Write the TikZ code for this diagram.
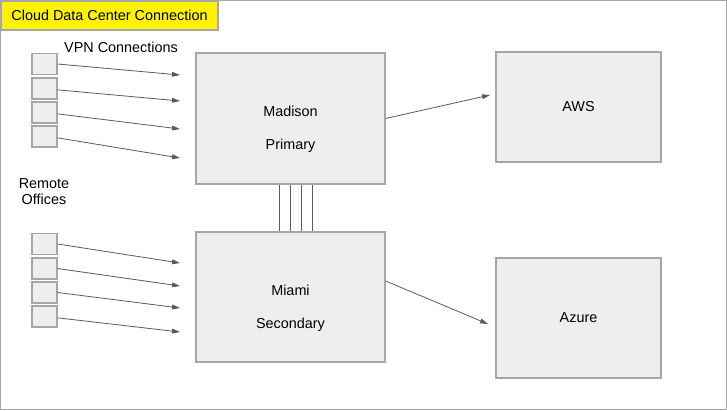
\documentclass[tikz,border=0pt]{standalone}
\usepackage{fontspec}
\setmainfont{Liberation Sans}
\usetikzlibrary{arrows.meta}
\definecolor{boxfill}{HTML}{EEEEEE}
\definecolor{boxline}{HTML}{A6A6A6}
\definecolor{arrowcol}{HTML}{5A5A5A}
\begin{document}
\begin{tikzpicture}[x=0.75pt,y=-0.75pt,
  box/.style={draw=boxline,fill=boxfill,line width=0.9pt,inner sep=0pt},
  smallbox/.style={box,minimum width=18.75pt,minimum height=15.75pt},
  conn/.style={draw=arrowcol,line width=0.6pt,-{Triangle[length=6pt,width=3.6pt]}},
  link/.style={draw=arrowcol,line width=0.75pt},
  txt/.style={font=\fontsize{10.8pt}{13pt}\selectfont,inner sep=0pt},
  twoline/.style={align=center,inner sep=0pt,font=\fontsize{10.8pt}{24.75pt}\selectfont}]
\useasboundingbox (0,0) rectangle (727,410);
\node[draw=boxline,line width=0.75pt,minimum width=544.5pt,minimum height=306.75pt,inner sep=0pt] (frame) at (363.5,205) {};
% title
\node[draw=boxline,fill=yellow,line width=0.9pt,minimum width=162.75pt,minimum height=21.75pt,inner sep=0pt,font=\fontsize{10.8pt}{13pt}\selectfont] (title) at (109.5,15.5) {Cloud Data Center Connection};
\node[txt] (vpn) at (121,47) {VPN Connections};
\node[txt,align=center,font=\fontsize{10.8pt}{12pt}\selectfont] (remote) at (44,192) {Remote\\Offices};
% small boxes
\node[smallbox] (a1) at (44.5,64) {};
\node[smallbox] (a2) at (44.5,88.5) {};
\node[smallbox] (a3) at (44.5,112.5) {};
\node[smallbox] (a4) at (44.5,136.5) {};
\node[smallbox] (b1) at (44.5,244) {};
\node[smallbox] (b2) at (44.5,268.5) {};
\node[smallbox] (b3) at (44.5,292.5) {};
\node[smallbox] (b4) at (44.5,316.5) {};
% main boxes
\node[box,minimum width=141.75pt,minimum height=98.25pt] (ma) at (290.5,118.5) {};
\node[twoline] (malbl) at (290.5,129.5) {Madison\\Primary};
\node[box,minimum width=141.75pt,minimum height=97.5pt] (mi) at (290.5,297) {};
\node[twoline] (milbl) at (290.5,308.5) {Miami\\Secondary};
\node[box,minimum width=123.75pt,minimum height=82.5pt,font=\fontsize{10.8pt}{13pt}\selectfont] (aws) at (578.5,107) {AWS};
\node[box,minimum width=123.75pt,minimum height=90pt,font=\fontsize{10.8pt}{13pt}\selectfont] (az) at (578.5,318) {Azure};
% arrow end points
\coordinate (ea1) at (180,75);
\coordinate (ea2) at (180,101);
\coordinate (ea3) at (180,129);
\coordinate (ea4) at (180,158);
\coordinate (eb1) at (180,263);
\coordinate (eb2) at (180,286);
\coordinate (eb3) at (180,308);
\coordinate (eb4) at (180,332);
\coordinate (eaws) at (490,95);
\coordinate (eaz) at (488,324);
\draw[conn] (a1.east) -- (ea1);
\draw[conn] ([yshift=-1pt]a2.east) -- (ea2);
\draw[conn] ([yshift=-1pt]a3.east) -- (ea3);
\draw[conn] ([yshift=-1pt]a4.east) -- (ea4);
\draw[conn] (b1.east) -- (eb1);
\draw[conn] (b2.east) -- (eb2);
\draw[conn] (b3.east) -- (eb3);
\draw[conn] ([yshift=-1pt]b4.east) -- (eb4);
\draw[conn] (ma.east) -- (eaws);
\draw[conn] ([yshift=12pt]mi.east) -- (eaz);
% links between sites
\foreach \dx in {-8.25pt,0pt,8.25pt,16.5pt}
  \draw[link] ([xshift=\dx]ma.south) -- ([xshift=\dx]mi.north);
\end{tikzpicture}
\end{document}
